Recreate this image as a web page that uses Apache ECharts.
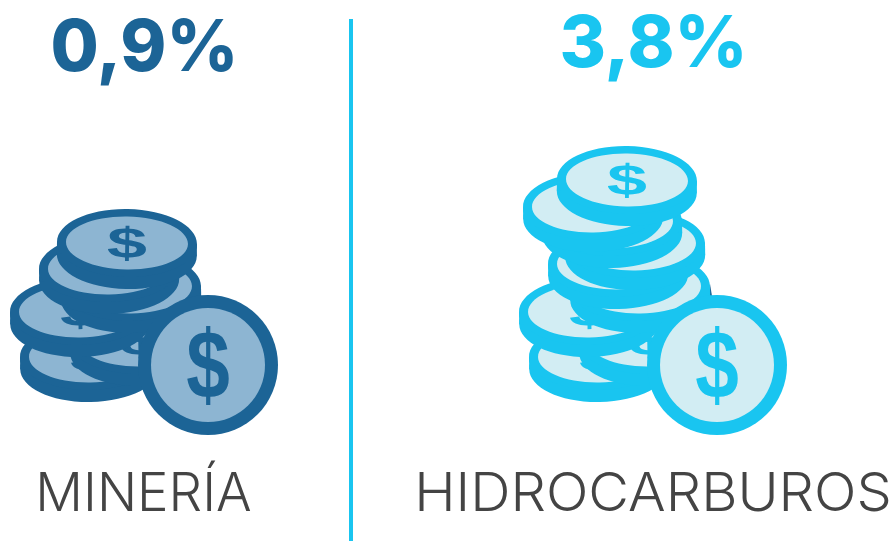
<!DOCTYPE html>
<html>
<head>
<meta charset="utf-8">
<title>Minería e hidrocarburos</title>
<style>
html,body{margin:0;padding:0;background:#fff}
#chart{width:894px;height:541px}
</style>
<script src="https://cdn.jsdelivr.net/npm/echarts@6/dist/echarts.min.js"></script>
</head>
<body>
<div id="chart"></div>
<script>
// datos
var categories = ['MINERÍA', 'HIDROCARBUROS'];
var shareValues = [0.9, 3.8];
var darkColors = ['#1c6496', '#19c5f0'];
var lightColors = ['#8db5d2', '#d2edf3'];

var NUM_FONT = 'Inter, "Open Sans", sans-serif';
var SIGN_FONT = '"Liberation Sans", Arial, sans-serif';

function formatShare(v) {
    return v.toFixed(1).replace('.', ',') + '%';
}

// moneda de perfil: canto oscuro, cara clara y signo de dolar
function coin(cx, cy, tilt, dark, light, hasSign) {
    var parts = [
        {type: 'ellipse', shape: {cx: 0, cy: 12, rx: 70, ry: 34}, style: {fill: dark}},
        {type: 'rect', shape: {x: -70, y: 0, width: 140, height: 12}, style: {fill: dark}},
        {type: 'ellipse', shape: {cx: 0, cy: 0, rx: 70, ry: 34}, style: {fill: dark}},
        {type: 'ellipse', shape: {cx: 0, cy: 0, rx: 61, ry: 26.5}, style: {fill: light}}
    ];
    if (hasSign) {
        parts.push({
            type: 'text', x: 0, y: 3, scaleY: 0.6,
            style: {text: '$', fill: dark, font: 'bold 72px ' + SIGN_FONT, textAlign: 'center', textVerticalAlign: 'middle'}
        });
    }
    return {type: 'group', x: cx, y: cy, rotation: tilt * Math.PI / 180, children: parts};
}

// moneda de frente, la grande
function frontCoin(cx, cy, dark, light) {
    return {
        type: 'group', x: cx, y: cy,
        children: [
            {type: 'circle', shape: {cx: 0, cy: 0, r: 70}, style: {fill: dark}},
            {type: 'circle', shape: {cx: 0, cy: 0, r: 57}, style: {fill: light}},
            {
                type: 'text', x: 0, y: 6, scaleX: 0.87, scaleY: 1.07,
                style: {text: '$', fill: dark, font: 'bold 90px ' + SIGN_FONT, textAlign: 'center', textVerticalAlign: 'middle'}
            }
        ]
    };
}

// la pila comun de abajo + las monedas de arriba de cada lado
function stack(dx, upper, dark, light) {
    var base = [[90, 356, 1, true], [140, 340, 1, true], [80, 311, 1, true], [131, 287, 1, false]];
    var out = [];
    base.concat(upper).forEach(function (c) {
        out.push(coin(c[0] + dx, c[1], c[2], dark, light, c[3]));
    });
    out.push(frontCoin(208 + dx, 365, dark, light));
    return out;
}

var upperLeft = [[109, 268, 1, false], [127, 243, -1, true]];
var upperRight = [[109, 263, 1, false], [126, 244, 1, false], [103, 222, 1, false], [84, 206, 1, false], [118, 180, -1, true]];

var elements = [
    {type: 'rect', shape: {x: 349, y: 19, width: 4, height: 522}, style: {fill: '#19c5f0'}},
    {
        type: 'text', x: 144.5, y: 49, scaleX: 0.97,
        style: {text: formatShare(shareValues[0]), fill: darkColors[0], font: '800 72px ' + NUM_FONT, textAlign: 'center', textVerticalAlign: 'middle'}
    },
    {
        type: 'text', x: 653.5, y: 45, scaleX: 0.985,
        style: {text: formatShare(shareValues[1]), fill: darkColors[1], font: '800 72px ' + NUM_FONT, textAlign: 'center', textVerticalAlign: 'middle'}
    },
    {
        type: 'text', x: 143.5, y: 495, scaleX: 0.98,
        style: {text: categories[0], fill: '#444444', font: '300 54px ' + NUM_FONT, textAlign: 'center', textVerticalAlign: 'middle'}
    },
    {
        type: 'text', x: 653, y: 495, scaleX: 1.035,
        style: {text: categories[1], fill: '#444444', font: '300 54px ' + NUM_FONT, textAlign: 'center', textVerticalAlign: 'middle'}
    },
    // restos del icono de debajo que asoman en el original
    {type: 'polygon', shape: {points: [[707, 296], [710, 284], [712, 296]]}, style: {fill: darkColors[0]}},
    {type: 'polygon', shape: {points: [[197, 297], [200, 290], [201, 297]]}, style: {fill: darkColors[1]}}
];
elements = elements.concat(stack(0, upperLeft, darkColors[0], lightColors[0]));
elements = elements.concat(stack(509, upperRight, darkColors[1], lightColors[1]));

var chart = echarts.init(document.getElementById('chart'), null, {renderer: 'canvas'});
chart.setOption({
    backgroundColor: '#ffffff',
    animation: false,
    graphic: {elements: elements}
});
</script>
</body>
</html>
